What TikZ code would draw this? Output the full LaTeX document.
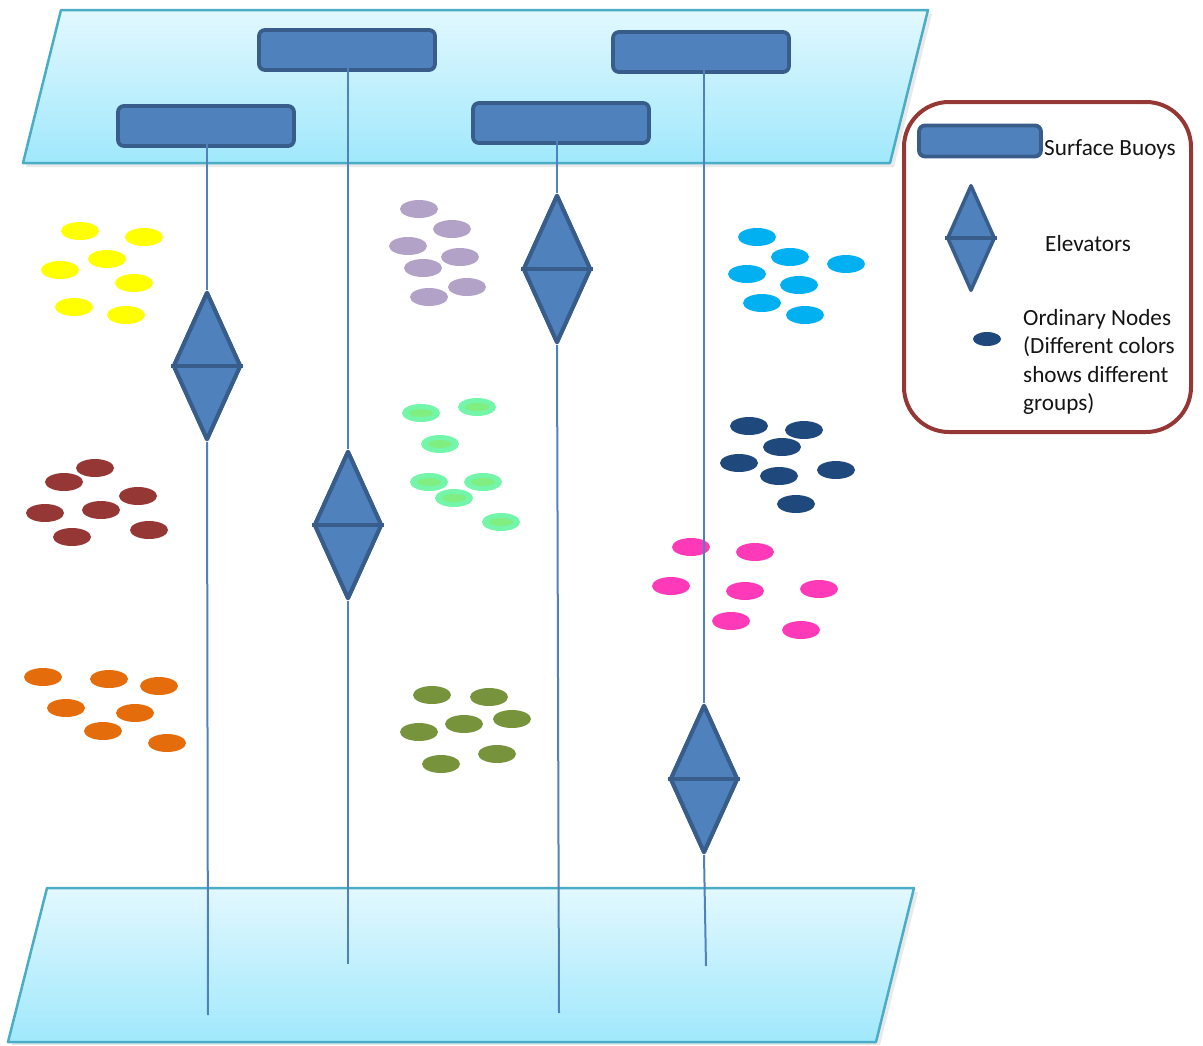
\documentclass[tikz,border=0pt]{standalone}
\usepackage{fontspec}
\setmainfont{Carlito}
\usetikzlibrary{shapes.geometric}

\definecolor{planetop}{RGB}{226,248,254}
\definecolor{planebot}{RGB}{160,232,252}
\definecolor{planeedge}{RGB}{75,172,198}
\definecolor{buoyfill}{RGB}{79,129,189}
\definecolor{buoyedge}{RGB}{56,93,138}
\definecolor{cable}{RGB}{79,129,189}
\definecolor{legendedge}{RGB}{149,55,53}
\definecolor{cyel}{RGB}{255,255,0}
\definecolor{clav}{RGB}{178,162,199}
\definecolor{ccyan}{RGB}{0,176,240}
\definecolor{cgreen}{RGB}{115,245,170}
\definecolor{cgreenin}{RGB}{128,238,128}
\definecolor{cbrown}{RGB}{149,55,53}
\definecolor{cnavy}{RGB}{31,73,125}
\definecolor{cpink}{RGB}{255,58,184}
\definecolor{corange}{RGB}{228,108,10}
\definecolor{colive}{RGB}{119,147,60}
\definecolor{txt}{RGB}{20,20,20}

\begin{document}
\begin{tikzpicture}[x=1pt,y=-1pt,
  plane/.style={draw=planeedge, line width=2.5pt, top color=planetop, bottom color=planebot, line join=round},
  planeshadow/.style={fill=black!25, opacity=0.35},
  buoy/.style={rectangle, rounded corners=6pt, draw=buoyedge, line width=3.8pt, fill=buoyfill,
    inner sep=0pt, minimum width=176pt, minimum height=40pt},
  elevator/.style={diamond, draw=buoyedge, line width=4pt, fill=buoyfill, inner sep=0pt,
    minimum width=68pt, minimum height=148pt, line join=round},
  cableline/.style={draw=cable, line width=2pt},
  dot/.style={ellipse, inner sep=0pt, minimum width=38pt, minimum height=18pt},
  legendtext/.style={text=txt, inner sep=0pt, font=\fontsize{23.2}{28.5}\selectfont}
]
\useasboundingbox (0,0) rectangle (1203,1045);

% sea surface and sea floor
\fill[planeshadow] (64,14) -- (932,14) -- (894,167) -- (26,167) -- cycle;
\path[plane] (61,10) -- (928,10) -- (890,163) -- (23,163) -- cycle;
\fill[planeshadow] (50,892) -- (918,892) -- (880,1045) -- (12,1045) -- cycle;
\path[plane] (47,888) -- (914,888) -- (876,1042) -- (8,1042) -- cycle;

% surface buoys
\node[buoy] (b1) at (206,126) {};
\node[buoy] (b2) at (347,50) {};
\node[buoy] (b3) at (561,123) {};
\node[buoy] (b4) at (701,52) {};

% ordinary nodes, one colour per group
\foreach \p [count=\i] in {(80,231),(144,237),(107,259),(60,270),(134,283),(74,307),(126,315)}
  \node[dot, fill=cyel] (yel\i) at \p {};
\foreach \p [count=\i] in {(419,209),(452,229),(408,246),(460,257),(423,268),(467,287),(429,297)}
  \node[dot, fill=clav] (lav\i) at \p {};
\foreach \p [count=\i] in {(757,237),(790,257),(846,264),(747,274),(799,285),(762,303),(805,315)}
  \node[dot, fill=ccyan] (cya\i) at \p {};
\foreach \p [count=\i] in {(421,413),(477,407),(440,444),(429,482),(483,482),(454,498),(501,522)}
  {\node[dot, fill=cgreen] (grn\i) at \p {};
   \node[ellipse, inner sep=0pt, minimum width=24pt, minimum height=8pt, fill=cgreenin] (grnc\i) at \p {};}
\foreach \p [count=\i] in {(95,468),(64,482),(138,496),(45,513),(101,510),(149,530),(72,537)}
  \node[dot, fill=cbrown] (brn\i) at \p {};
\foreach \p [count=\i] in {(749,426),(804,430),(782,447),(739,463),(836,470),(779,476),(796,504)}
  \node[dot, fill=cnavy] (nav\i) at \p {};
\foreach \p [count=\i] in {(691,547),(755,552),(671,586),(745,591),(819,589),(731,621),(801,630)}
  \node[dot, fill=cpink] (pnk\i) at \p {};
\foreach \p [count=\i] in {(43,677),(109,679),(159,686),(66,708),(135,713),(103,731),(167,743)}
  \node[dot, fill=corange] (orn\i) at \p {};
\foreach \p [count=\i] in {(432,695),(489,697),(464,724),(512,719),(419,732),(441,764),(497,754)}
  \node[dot, fill=colive] (olv\i) at \p {};

% elevators
\node[elevator] (e1) at (207,366) {};
\node[elevator] (e2) at (348,525) {};
\node[elevator] (e3) at (557,269) {};
\node[elevator] (e4) at (704,779) {};

% cable anchors on the sea floor
\coordinate (f1) at (208,1015);
\coordinate (f2) at (348,964);
\coordinate (f3) at (559,1013);
\coordinate (f4) at (706,966);

% cables: from the buoy, straight down through its elevator to the floor
\foreach \k in {1,...,4} {
  \draw[cableline] (e\k.north |- b\k.center) -- (e\k.north);
  \draw[cableline] (e\k.south) -- (f\k);
}
% elevators drawn again on top of the cables, with their middle bar
\foreach \k in {1,...,4} {
  \node[elevator] (ee\k) at (e\k) {};
  \draw[buoyedge, line width=4pt] (ee\k.west) -- (ee\k.east);
}

% legend
\draw[legendedge, line width=4pt, rounded corners=45pt] (904,102) rectangle (1191,432);
\node[buoy, minimum width=122pt, minimum height=31pt] (lb) at (980,141) {};
\node[legendtext, anchor=west] (lbt) at (1044,149) {Surface Buoys};
\node[elevator, minimum width=48pt, minimum height=106pt, line width=3.5pt] (le) at (971,238) {};
\draw[buoyedge, line width=3.5pt] (le.west) -- (le.east);
\node[legendtext, anchor=west] (let) at (1045,244) {Elevators};
\node[ellipse, fill=cnavy, inner sep=0pt, minimum width=28pt, minimum height=14pt] (ln) at (987,339) {};
\node[legendtext, anchor=north west, align=left] (lnt) at (1023,309) {Ordinary Nodes\\(Different colors\\shows different\\groups)};
\end{tikzpicture}
\end{document}
